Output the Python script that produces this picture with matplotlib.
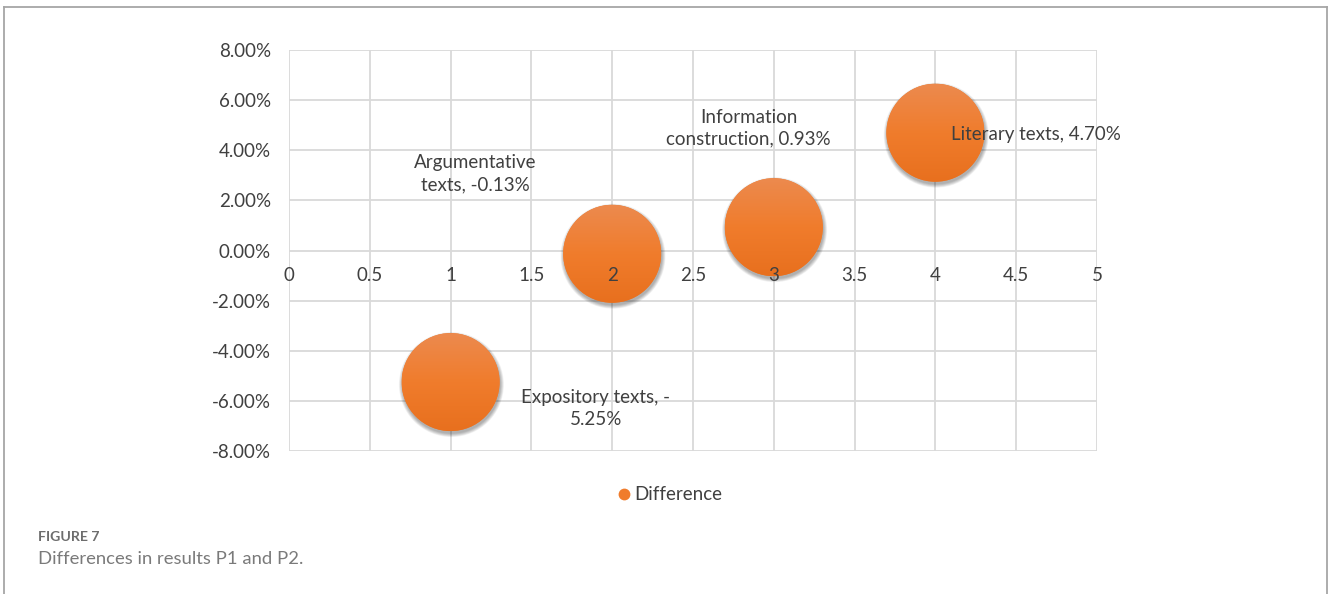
import matplotlib
matplotlib.use("Agg")
import matplotlib.pyplot as plt
import matplotlib.transforms as mtransforms
from matplotlib.patches import Circle
from matplotlib.lines import Line2D
import numpy as np

# ---- data ----
categories = ["Expository texts", "Argumentative texts", "Information construction", "Literary texts"]
x_values = [1, 2, 3, 4]
differences = [-5.25, -0.13, 0.93, 4.70]   # percent
bubble_sizes = [1, 1, 1, 1]
series_name = "Difference"
x_ticks = [0, 0.5, 1, 1.5, 2, 2.5, 3, 3.5, 4, 4.5, 5]
x_tick_labels = ["0", "0.5", "1", "1.5", "2", "2.5", "3", "3.5", "4", "4.5", "5"]
y_ticks = [-8, -6, -4, -2, 0, 2, 4, 6, 8]
y_tick_labels = ["-8.00%", "-6.00%", "-4.00%", "-2.00%", "0.00%", "2.00%", "4.00%", "6.00%", "8.00%"]
label_texts = ["Expository texts, -\n5.25%", "Argumentative\ntexts, -0.13%",
               "Information\nconstruction, 0.93%", "Literary texts, 4.70%"]

FONT = "Lato"
FS = 13.5
TXT = "#404040"
GRID = "#d9d9d9"
ORANGE = "#f07c2c"

fig = plt.figure(figsize=(13.28, 5.94), dpi=100)
ax = fig.add_axes([289/1328, 1-451/594, (1097-289)/1328, (451-50)/594])
ax.spines["bottom"].set_position(("data", 0))
for s in ax.spines.values():
    s.set_visible(False)
ax.set_xlim(0, 5)
ax.set_ylim(-8, 8)

ax.set_xticks(x_ticks)
ax.set_xticklabels(x_tick_labels, fontfamily=FONT, fontsize=FS, color=TXT)
ax.set_yticks(y_ticks)
ax.set_yticklabels(y_tick_labels, fontfamily=FONT, fontsize=FS, color=TXT)
ax.tick_params(axis="both", length=0)
ax.tick_params(axis="x", pad=12)
ax.tick_params(axis="y", pad=13)
ax.set_axisbelow(False)
ax.xaxis.set_zorder(7)
ax.yaxis.set_zorder(7)

# gridlines behind bubbles
for xt in x_ticks:
    ax.axvline(xt, color=GRID, linewidth=1.3, zorder=0.5)
for yt in y_ticks:
    ax.axhline(yt, color=GRID, linewidth=1.3, zorder=0.5)

# bubbles
r_in = 0.49  # radius in inches
cmap = matplotlib.colors.LinearSegmentedColormap.from_list("g", ["#ec8a4e", "#f07c2c", "#e8701e"])
for xv, yv, sz in zip(x_values, differences, bubble_sizes):
    r = r_in * np.sqrt(sz)
    base = mtransforms.ScaledTranslation(xv, yv, ax.transData)
    # soft shadow
    for k in np.linspace(0.035, 0.0, 8):
        sh = Circle((0.008, -0.025), r + k, transform=fig.dpi_scale_trans + base,
                    facecolor="#000000", alpha=0.045, edgecolor="none", zorder=2)
        ax.add_patch(sh)
    circ = Circle((0, 0), r, transform=fig.dpi_scale_trans + base,
                  facecolor=ORANGE, edgecolor="none", zorder=3)
    ax.add_patch(circ)
    grad = np.linspace(0, 1, 100).reshape(-1, 1)
    im = ax.imshow(grad, cmap=cmap, extent=[-r, r, -r, r], origin="upper",
                   transform=fig.dpi_scale_trans + base, aspect="auto", zorder=4,
                   interpolation="bilinear")
    im.set_clip_path(circ)

ax.set_xlim(0, 5)
ax.set_ylim(-8, 8)

# data labels
offsets = [(145, -26, "center"), (-137, 80, "center"), (-25, 99, "center"), (16, -2, "left")]
for xv, yv, lab, (dx, dy, ha) in zip(x_values, differences, label_texts, offsets):
    ax.annotate(lab, (xv, yv), xytext=(dx * 0.72, dy * 0.72), textcoords="offset points",
                ha=ha, va="center", fontfamily=FONT, fontsize=FS, color=TXT,
                linespacing=1.35, zorder=8)

# legend
handle = Line2D([], [], marker="o", linestyle="none", markersize=8.5,
                markerfacecolor=ORANGE, markeredgecolor="none")
fig.legend([handle], [series_name], loc="center", bbox_to_anchor=(668/1328, 1-495/594),
           frameon=False, handletextpad=0.05, prop={"family": FONT, "size": FS},
           labelcolor=TXT, handlelength=1.0)

# caption
fig.text(38/1328, 1-537/594, "FIGURE 7", fontfamily=FONT, fontsize=10.2, fontweight="bold",
         color="#6d6d6d", va="center", ha="left")
fig.text(38/1328, 1-559/594, "Differences in results P1 and P2.", fontfamily=FONT,
         fontsize=13.3, color="#7a7a7a", va="center", ha="left")

# outer frame
frame_c = "#a6a6a6"
fig.add_artist(Line2D([4/1328, 4/1328], [0, 1-7/594], transform=fig.transFigure, color=frame_c, lw=1.3))
fig.add_artist(Line2D([4/1328, 1327/1328], [1-7/594, 1-7/594], transform=fig.transFigure, color=frame_c, lw=1.3))
fig.add_artist(Line2D([1327/1328, 1327/1328], [0, 1-7/594], transform=fig.transFigure, color=frame_c, lw=1.3))

fig.savefig("out.png", dpi=100)
